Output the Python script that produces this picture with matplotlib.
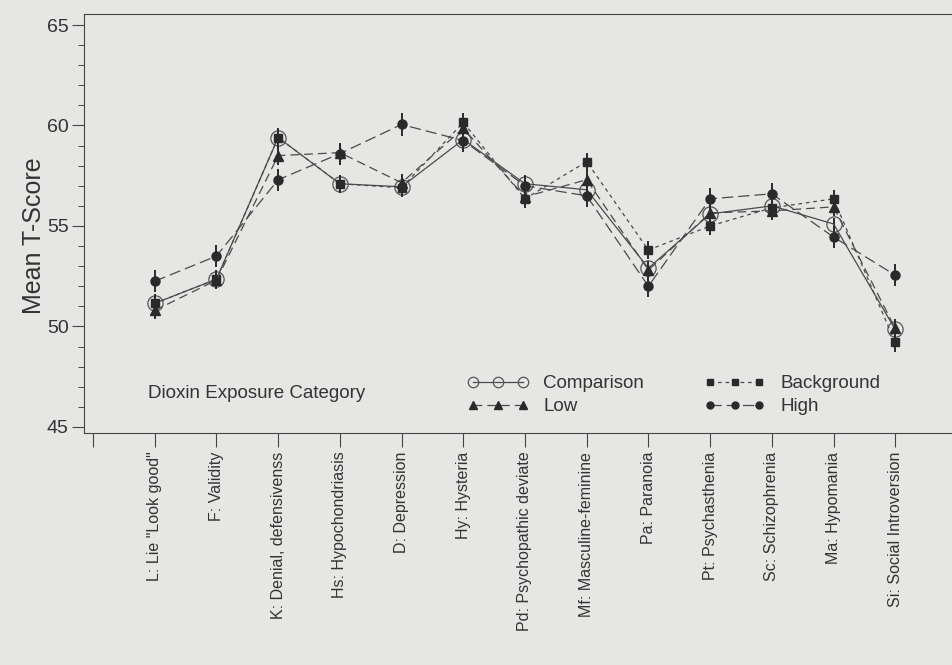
import matplotlib
matplotlib.use("Agg")
import matplotlib.pyplot as plt
from matplotlib.lines import Line2D
from matplotlib.ticker import MultipleLocator
import numpy as np

plt.rcParams["font.family"] = ["Liberation Sans", "DejaVu Sans"]

SCALES = [
    'L: Lie "Look good"',
    "F: Validity",
    "K: Denial, defensivenss",
    "Hs: Hypochondriasis",
    "D: Depression",
    "Hy: Hysteria",
    "Pd: Psychopathic deviate",
    "Mf: Masculine-feminine",
    "Pa: Paranoia",
    "Pt: Psychasthenia",
    "Sc: Schizophrenia",
    "Ma: Hypomania",
    "Si: Social Introversion",
]

# mean T-scores
comparison = [51.15, 52.35, 59.4, 57.1, 56.95, 59.3, 57.1, 56.8, 52.9, 55.6, 56.0, 55.1, 49.85]
background = [51.15, 52.35, 59.4, 57.1, 56.9, 60.15, 56.35, 58.2, 53.8, 55.0, 55.9, 56.35, 49.2]
low = [50.8, 52.3, 58.5, 58.65, 57.15, 59.85, 56.45, 57.3, 52.8, 55.65, 55.75, 55.95, 49.9]
high = [52.25, 53.5, 57.3, 58.6, 60.05, 59.25, 57.0, 56.5, 52.0, 56.35, 56.6, 54.45, 52.55]

# approximate half-widths of the error bars
comparison_err = [0.3] * 13
background_err = [0.45] * 13
low_err = [0.45] * 13
high_err = [0.55] * 13

INK = "#2a2a2a"
LINE = "#4a4a4a"
PAPER = "#e6e6e4"

STYLES = {
    "Comparison": dict(ls="-", marker="o", ms=11, mfc="none", mec="#555555", mew=0.9, lw=0.9),
    "Low": dict(ls=(0, (7, 4)), marker="^", ms=7, mfc=INK, mec=INK, lw=0.9),
    "Background": dict(ls=(0, (3, 3)), marker="s", ms=6, mfc=INK, mec=INK, lw=0.9),
    "High": dict(ls=(0, (9, 4)), marker="o", ms=6.5, mfc=INK, mec=INK, lw=0.9),
}

LEGEND_MS = {"Comparison": 7.5, "Low": 5.5, "Background": 5, "High": 5}


def main():
    fig = plt.figure(figsize=(9.52, 6.65), dpi=100, facecolor=PAPER)
    ax = fig.add_axes([0.088, 0.349, 0.912, 0.63], facecolor=PAPER)

    x = np.arange(1, len(SCALES) + 1)
    series = [
        ("Comparison", comparison, comparison_err),
        ("Background", background, background_err),
        ("Low", low, low_err),
        ("High", high, high_err),
    ]
    for name, vals, errs in series:
        st = STYLES[name]
        ax.errorbar(x, vals, yerr=errs, fmt="none", ecolor=INK, elinewidth=1.4, capsize=0)
        ax.plot(x, vals, color=LINE, **st)

    ax.set_xlim(-0.15, 13.92)
    ax.set_ylim(44.7, 65.55)
    ax.set_xticks(np.arange(0, 14))
    ax.set_xticklabels([""] + SCALES, rotation=90, fontsize=11.5, color="#333333")
    ax.yaxis.set_major_locator(MultipleLocator(5))
    ax.yaxis.set_minor_locator(MultipleLocator(1))
    ax.tick_params(axis="y", which="major", length=9, width=0.8, colors="#444444",
                   labelsize=14, labelcolor="#333333", pad=2)
    ax.tick_params(axis="y", which="minor", length=4, width=0.7, colors="#444444")
    ax.tick_params(axis="x", length=10, width=0.8, colors="#444444", labelcolor="#333333")
    ax.set_ylabel("Mean T-Score", fontsize=18, color="#333333")
    ax.yaxis.set_label_coords(-0.044, 0.47)

    for side in ["left", "bottom", "top"]:
        ax.spines[side].set_color("#444444")
        ax.spines[side].set_linewidth(0.8)
    ax.spines["right"].set_visible(False)

    ax.text(0.074, 0.095, "Dioxin Exposure Category", transform=ax.transAxes,
            fontsize=13.5, color="#333333", va="center", ha="left")

    names = ["Comparison", "Low", "Background", "High"]
    handles = []
    for n in names:
        st = dict(STYLES[n])
        st["ms"] = LEGEND_MS[n]
        handles.append(Line2D([], [], color=LINE, **st))
    ax.legend(handles, names, ncol=2, loc="center left",
              bbox_to_anchor=(0.431, 0.09), frameon=False, borderpad=0,
              numpoints=3, handlelength=3.25, columnspacing=3.2, labelspacing=0.3,
              handletextpad=0.8, fontsize=13.5, labelcolor="#333333")

    fig.savefig("out.png", dpi=100, facecolor=PAPER)


if __name__ == "__main__":
    main()
